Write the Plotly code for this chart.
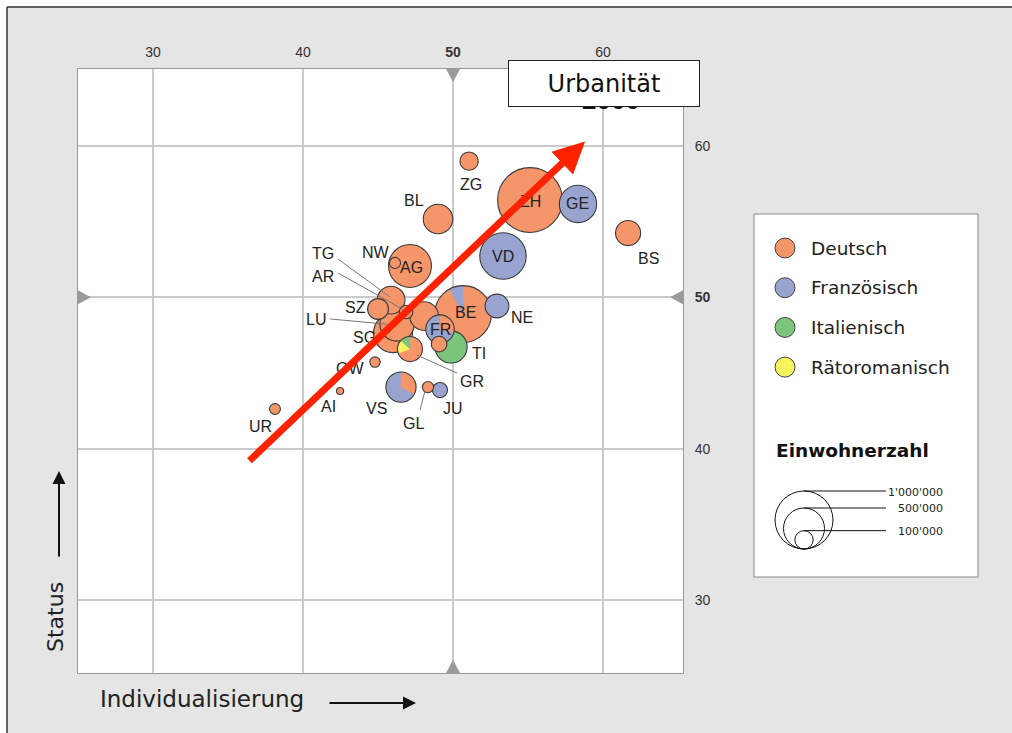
import numpy as np
import plotly.graph_objects as go

# ---------------- data ----------------
CANTONS = ["ZH", "BE", "VD", "AG", "SG", "GE", "LU", "TI", "VS", "BL", "SO", "FR", "TG",
           "GR", "BS", "NE", "SZ", "ZG", "SH", "JU", "AR", "GL", "NW", "UR", "OW", "AI"]
INDIVIDUALISIERUNG = [55.13, 50.67, 53.33, 47.13, 46.00, 58.33, 46.27, 49.87, 46.53, 49.00, 48.07, 49.13, 45.87,
                      47.13, 61.67, 52.93, 45.00, 51.07, 49.07, 49.13, 46.87, 48.33, 46.13, 38.13, 44.80, 42.47]
STATUS = [56.43, 48.90, 52.73, 52.07, 47.64, 56.17, 48.24, 46.72, 44.07, 55.18, 48.76, 47.90, 49.82,
          46.58, 54.25, 49.43, 49.23, 59.00, 46.91, 43.87, 49.03, 44.07, 52.27, 42.62, 45.72, 43.81]
EINWOHNER = [1248000, 957000, 641000, 547000, 453000, 414000, 350000, 307000, 272000, 259000, 244000, 242000, 229000,
             187000, 188000, 168000, 129000, 100000, 73000, 68000, 54000, 38000, 37000, 35000, 32000, 15000]
# language shares (drawn clockwise from 12 o'clock in this order)
ANTEIL_DE = [1, 0.92, 0, 1, 1, 0, 1, 0, 0.33, 1, 1, 0.29, 1, 0.70, 1, 0, 1, 1, 1, 0, 1, 1, 1, 1, 1, 1]
ANTEIL_FR = [0, 0.08, 1, 0, 0, 1, 0, 0, 0.67, 0, 0, 0.71, 0, 0.00, 0, 1, 0, 0, 0, 1, 0, 0, 0, 0, 0, 0]
ANTEIL_RM = [0, 0, 0, 0, 0, 0, 0, 0, 0, 0, 0, 0, 0, 0.17, 0, 0, 0, 0, 0, 0, 0, 0, 0, 0, 0, 0]
ANTEIL_IT = [0, 0, 0, 0, 0, 0, 0, 1, 0, 0, 0, 0, 0, 0.13, 0, 0, 0, 0, 0, 0, 0, 0, 0, 0, 0, 0]

SPRACHEN = ["Deutsch", "Französisch", "Italienisch", "Rätoromanisch"]
X_TICKS = [30, 40, 50, 60]
Y_TICKS = [30, 40, 50, 60]
TICK_TEXT = ["30", "40", "<b>50</b>", "60"]
SIZE_LEGEND = [1000000, 500000, 100000]
SIZE_LEGEND_TEXT = ["1'000'000", "500'000", "100'000"]
TREND_START = (36.33, 39.11)
TREND_END = (58.8, 60.3)

# ---------------- style / layout ----------------
COL = {"de": "#f4956a", "fr": "#99a3cf", "it": "#7cc57c", "rm": "#f6f55e"}
LEG_COLS = [COL["de"], COL["fr"], COL["it"], COL["rm"]]
OUTLINE = "#3a3a3a"
FONT = "Liberation Sans, Arial, sans-serif"
WIDE = "DejaVu Sans, Verdana, sans-serif"
X_RANGE = [25.0, 65.33]
Y_RANGE = [25.175, 65.09]
FIG_W, FIG_H = 1012, 733
M_L, M_R, M_T, M_B = 78, 329, 69, 60
PW, PH = FIG_W - M_L - M_R, FIG_H - M_T - M_B
PX_PER_X = PW / (X_RANGE[1] - X_RANGE[0])
PX_PER_Y = PH / (Y_RANGE[1] - Y_RANGE[0])
K_SIZE = 0.058  # px diameter per sqrt(inhabitant)

# label offsets (screen px, dy downwards) relative to bubble centre
LABEL_OFF = {"ZH": (1, 1), "BE": (2, -1), "VD": (0, 0), "AG": (2, 1), "SG": (-29, 4), "GE": (0, 0),
             "LU": (-81, -4), "TI": (28, 7), "VS": (-24, 21), "BL": (-24, -18), "FR": (1, 0),
             "TG": (-68, -47), "GR": (62, 32), "BS": (20, 25), "NE": (25, 12), "SZ": (-23, -2),
             "ZG": (2, 23), "JU": (13, 18), "AR": (-83, -36), "GL": (-14, 36), "NW": (-19, -10),
             "UR": (-14, 17), "OW": (-25, 6), "AI": (-12, 15)}
LEADERS = {"TG": ((-53, -41), (-1, -3)), "AR": ((-68, -39), (-2, -2)), "LU": ((-67, -5), (-2, 1)),
           "GR": ((7, 6), (47, 24)), "GL": ((-3, 4), (-8, 23))}


def px(xp):
    return (xp - M_L) / PW


def py(yp):
    return (M_T + PH - yp) / PH


def diam(pop):
    return K_SIZE * np.sqrt(pop)


def wedge(cx, cy, r_px, f0, f1):
    a = np.linspace(f0, f1, max(3, int((f1 - f0) * 120))) * 2 * np.pi
    rx, ry = r_px / PX_PER_X, r_px / PX_PER_Y
    xs = np.concatenate([[cx], cx + rx * np.sin(a), [cx]])
    ys = np.concatenate([[cy], cy + ry * np.cos(a), [cy]])
    return xs, ys


def text(x, y, t, size, family=FONT, color="#222", xanchor="center", yanchor="middle", **kw):
    return dict(x=px(x), y=py(y), xref="paper", yref="paper", text=t, showarrow=False,
                xanchor=xanchor, yanchor=yanchor, font=dict(family=family, size=size, color=color), **kw)


fig = go.Figure()

order = np.argsort(-np.array(EINWOHNER), kind="stable")
for i in order:
    x, y, pop = INDIVIDUALISIERUNG[i], STATUS[i], EINWOHNER[i]
    d = diam(pop)
    shares = [("de", ANTEIL_DE[i]), ("fr", ANTEIL_FR[i]), ("rm", ANTEIL_RM[i]), ("it", ANTEIL_IT[i])]
    main = max(shares, key=lambda s: s[1])
    is_pie = main[1] < 0.999
    fig.add_trace(go.Scatter(
        x=[x], y=[y], mode="markers", showlegend=False, hoverinfo="text", text=[CANTONS[i]],
        marker=dict(size=d, color=COL[main[0]],
                    line=dict(color=OUTLINE, width=0 if is_pie else 1.1))))
    if is_pie:
        start = 0.0
        for key, s in shares:
            if s <= 0:
                continue
            if key != main[0]:
                wx, wy = wedge(x, y, d / 2 - 0.3, start, start + s)
                fig.add_trace(go.Scatter(x=wx, y=wy, mode="lines", fill="toself",
                                         fillcolor=COL[key], line=dict(width=0.5, color=COL[key]),
                                         showlegend=False, hoverinfo="skip"))
            start += s
        fig.add_trace(go.Scatter(
            x=[x], y=[y], mode="markers", showlegend=False, hoverinfo="skip",
            marker=dict(size=d, color="rgba(0,0,0,0)", line=dict(color=OUTLINE, width=1.1))))

shapes = []
annotations = []

# page frame
shapes += [
    dict(type="rect", xref="paper", yref="paper", x0=px(0), x1=px(FIG_W), y0=py(0), y1=py(7),
         fillcolor="white", line=dict(width=0), layer="below"),
    dict(type="rect", xref="paper", yref="paper", x0=px(0), x1=px(7), y0=py(0), y1=py(FIG_H),
         fillcolor="white", line=dict(width=0), layer="below"),
    dict(type="line", xref="paper", yref="paper", x0=px(7), x1=px(FIG_W), y0=py(7), y1=py(7),
         line=dict(color="#333", width=1.5)),
    dict(type="line", xref="paper", yref="paper", x0=px(7), x1=px(7), y0=py(7), y1=py(FIG_H),
         line=dict(color="#333", width=1.5)),
]

# axis markers at 50
tri = dict(type="path", xref="x", yref="y", xsizemode="pixel", ysizemode="pixel",
           fillcolor="#9a9a9a", line=dict(width=0), layer="above")
shapes += [
    dict(tri, xanchor=50, yanchor=Y_RANGE[1], path="M -7 0 L 7 0 L 0 -13 Z"),
    dict(tri, xanchor=50, yanchor=Y_RANGE[0], path="M -7 0 L 7 0 L 0 13 Z"),
    dict(tri, xanchor=X_RANGE[0], yanchor=50, path="M 0 -7 L 0 7 L 13 0 Z"),
    dict(tri, xanchor=X_RANGE[1], yanchor=50, path="M 0 -7 L 0 7 L -13 0 Z"),
]

# leader lines
for c, ((sx, sy), (ex, ey)) in LEADERS.items():
    i = CANTONS.index(c)
    shapes.append(dict(type="line", xref="x", yref="y", xsizemode="pixel", ysizemode="pixel",
                       xanchor=INDIVIDUALISIERUNG[i], yanchor=STATUS[i],
                       x0=sx, y0=-sy, x1=ex, y1=-ey, line=dict(color="#777", width=1)))

# canton labels
for c, (dx, dy) in LABEL_OFF.items():
    i = CANTONS.index(c)
    annotations.append(dict(x=INDIVIDUALISIERUNG[i], y=STATUS[i], xref="x", yref="y", text=c,
                            showarrow=False, xshift=dx, yshift=-dy, xanchor="center", yanchor="middle",
                            font=dict(family=FONT, size=16, color="#222")))

# trend arrow
annotations.append(dict(x=TREND_END[0], y=TREND_END[1], ax=TREND_START[0], ay=TREND_START[1],
                        xref="x", yref="y", axref="x", ayref="y", text="", showarrow=True,
                        arrowhead=2, arrowsize=0.9, arrowwidth=7, arrowcolor="#ff2200", standoff=0))

# "2000" (mostly hidden behind the box), then Urbanität box
annotations.append(text(611, 100, "<b>2000</b>", 26, color="#111"))
annotations.append(text(604, 83.5, "Urbanität", 24, family=WIDE, color="#111",
                        bgcolor="white", bordercolor="#222", borderwidth=1, borderpad=0,
                        width=190, height=45))

# axis titles
annotations.append(text(202, 699, "Individualisierung", 23, family=WIDE))
annotations.append(dict(x=px(416), y=py(703), xref="paper", yref="paper", text="", showarrow=True,
                        ax=-88, ay=0, arrowhead=2, arrowsize=1.3, arrowwidth=2, arrowcolor="#111",
                        standoff=0))
annotations.append(text(55, 617, "Status", 22, family=WIDE, textangle=-90))
annotations.append(dict(x=px(59), y=py(471), xref="paper", yref="paper", text="", showarrow=True,
                        ax=0, ay=87, arrowhead=2, arrowsize=1.3, arrowwidth=2, arrowcolor="#111",
                        standoff=0))

# legend box
shapes.append(dict(type="rect", xref="paper", yref="paper", x0=px(754), x1=px(978), y0=py(577), y1=py(214),
                   fillcolor="white", line=dict(color="#888", width=1)))
for k, (name, col) in enumerate(zip(SPRACHEN, LEG_COLS)):
    yc = 248 + k * 39.7
    shapes.append(dict(type="circle", xref="paper", yref="paper", x0=px(775), x1=px(795),
                       y0=py(yc + 10), y1=py(yc - 10), fillcolor=col, line=dict(color="#444", width=1)))
    annotations.append(text(809, yc, name, 18.5, family=WIDE, xanchor="left"))
annotations.append(text(774, 450, "<b>Einwohnerzahl</b>", 18.5, family=WIDE, color="#111", xanchor="left"))
bottom = 549
cx_leg = 804
for pop, txt in zip(SIZE_LEGEND, SIZE_LEGEND_TEXT):
    d = diam(pop)
    top = bottom - d
    shapes.append(dict(type="circle", xref="paper", yref="paper", x0=px(cx_leg - d / 2), x1=px(cx_leg + d / 2),
                       y0=py(bottom), y1=py(top), line=dict(color="#111", width=1)))
    shapes.append(dict(type="line", xref="paper", yref="paper", x0=px(cx_leg), x1=px(886),
                       y0=py(top), y1=py(top), line=dict(color="#111", width=1)))
    annotations.append(text(945, top + 1, txt, 11, family=WIDE, xanchor="right"))

axis_common = dict(tickvals=X_TICKS, ticktext=TICK_TEXT, showgrid=True, gridcolor="#cacaca", gridwidth=1.5,
                   zeroline=False, showline=True, linecolor="#999", linewidth=1, mirror=True, ticks="",
                   tickfont=dict(family=FONT, size=14, color="#333"), fixedrange=True)

fig.update_layout(
    width=FIG_W, height=FIG_H, autosize=False,
    margin=dict(l=M_L, r=M_R, t=M_T, b=M_B, pad=0),
    paper_bgcolor="#e5e5e5", plot_bgcolor="white",
    xaxis=dict(axis_common, range=X_RANGE, side="top", ticklabelstandoff=5),
    yaxis=dict(axis_common, tickvals=Y_TICKS, range=Y_RANGE, side="right", ticklabelstandoff=8),
    shapes=shapes, annotations=annotations, showlegend=False,
)

fig.write_html("out.html", config={"displayModeBar": False},
               post_script="document.body.style.margin='0';document.body.style.overflow='hidden';")
